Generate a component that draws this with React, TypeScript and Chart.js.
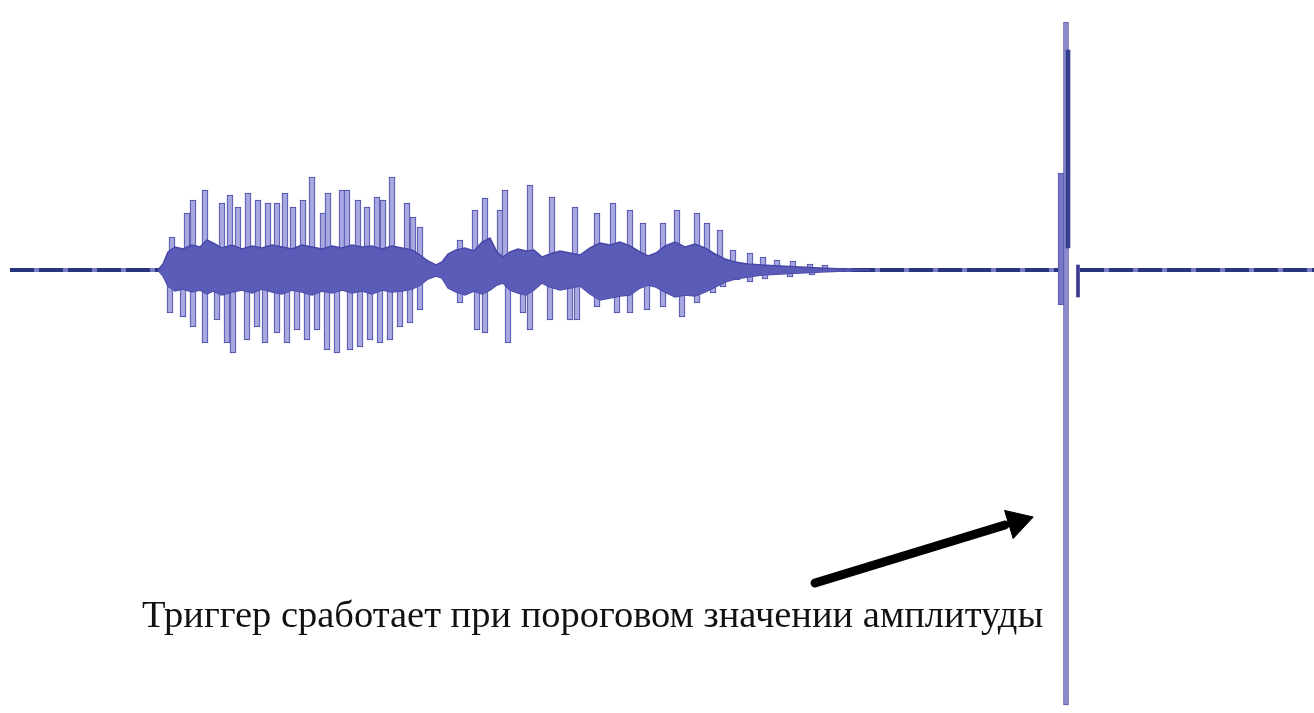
import React, { useEffect, useRef } from "react";
import { Chart, registerables } from "chart.js";

Chart.register(...registerables);

const W = 1314;
const H = 713;

// Axis ranges (amplitude relative to the zero line, sample position along x)
const xMin = 0;
const xMax = 1314;
const yMin = -443;
const yMax = 270;

// Zero line (null = break right after the trigger spike)
const baselineX = [10, 1058, 1069, 1080, 1314];
const baselineY: (number | null)[] = [0, 0, null, 0, 0];

// Dense core envelope of the speech signal
const coreX = [158, 163, 168, 175, 183, 192, 200, 207, 213, 222, 232, 242, 252, 262, 272, 282, 292, 302, 312, 322, 332, 342, 352, 362, 372, 382, 392, 402, 412, 420, 428, 436, 442, 448, 456, 465, 474, 482, 490, 497, 503, 510, 518, 526, 534, 542, 550, 560, 570, 580, 590, 600, 610, 620, 630, 640, 648, 656, 665, 675, 685, 695, 705, 715, 725, 735, 748, 762, 780, 800, 820, 845, 870];
const coreUp = [0, 6, 18, 23, 21, 25, 23, 30, 27, 22, 25, 21, 24, 22, 25, 23, 21, 25, 23, 21, 24, 22, 25, 23, 24, 21, 24, 22, 20, 15, 9, 5, 8, 16, 20, 22, 19, 28, 32, 18, 13, 18, 21, 19, 20, 13, 16, 19, 17, 15, 22, 27, 25, 28, 24, 18, 14, 17, 24, 28, 23, 26, 22, 16, 11, 8, 6, 5, 4, 3, 2, 1, 0];
const coreLo = [0, -6, -16, -21, -19, -22, -20, -24, -21, -25, -22, -20, -23, -19, -22, -24, -20, -22, -25, -21, -23, -20, -23, -21, -24, -20, -22, -21, -19, -15, -9, -6, -8, -18, -22, -25, -21, -24, -20, -15, -13, -20, -23, -25, -20, -13, -17, -20, -18, -16, -24, -30, -28, -26, -25, -18, -15, -17, -22, -27, -25, -26, -22, -17, -12, -9, -7, -5, -4, -3, -2, -1, 0];

// Positive peaks
const topSpikeX = [172, 187, 193, 205, 222, 230, 238, 248, 258, 268, 277, 285, 293, 303, 312, 323, 328, 342, 347, 358, 367, 377, 383, 392, 407, 413, 420, 460, 475, 485, 500, 505, 530, 552, 575, 597, 613, 630, 643, 663, 677, 697, 707, 720, 733, 750, 763, 777, 793, 810, 825];
const topSpikeAmp = [33, 57, 70, 80, 67, 75, 63, 77, 70, 67, 67, 77, 63, 70, 93, 57, 77, 80, 80, 70, 63, 73, 70, 93, 67, 53, 43, 30, 60, 72, 60, 80, 85, 73, 63, 57, 67, 60, 47, 47, 60, 57, 47, 40, 20, 17, 13, 10, 9, 6, 5];

// Negative peaks
const bottomSpikeX = [170, 183, 193, 205, 217, 227, 233, 247, 257, 265, 277, 287, 297, 307, 317, 327, 337, 350, 360, 370, 380, 390, 400, 410, 420, 460, 477, 485, 508, 523, 530, 550, 570, 577, 597, 617, 630, 647, 663, 682, 697, 713, 723, 737, 750, 765, 790, 812];
const bottomSpikeAmp = [-43, -47, -57, -73, -50, -73, -83, -70, -57, -73, -63, -73, -60, -70, -60, -80, -83, -80, -77, -70, -73, -70, -57, -53, -40, -33, -60, -63, -73, -43, -60, -50, -50, -50, -37, -43, -43, -40, -37, -47, -33, -23, -17, -10, -12, -9, -7, -5];

// Trigger impulse
const triggerX = [1066];
const triggerLo = [-435];
const triggerHi = [248];
const triggerCoreX = [1068];
const triggerCoreLo = [22];
const triggerCoreHi = [220];
const triggerBodyX = [1062];
const triggerBodyLo = [-35];
const triggerBodyHi = [97];
const triggerBlipX = [1078];
const triggerBlipLo = [-27];
const triggerBlipHi = [5];

// Annotation arrow
const arrowX = [815, 1005];
const arrowY = [-313, -255];
const arrowHeadX = [1017];
const arrowHeadY = [-252];

const caption = "Триггер сработает при пороговом значении амплитуды";

const pts = (xs: number[], ys: (number | null)[]) => xs.map((x, i) => ({ x, y: ys[i] }));
const ranges = (xs: number[], lo: number[], hi: number[]) => xs.map((x, i) => ({ x, y: [lo[i], hi[i]] }));

export default function App() {
  const ref = useRef<HTMLCanvasElement | null>(null);

  useEffect(() => {
    if (!ref.current) return;
    const spikeStyle = {
      type: "bar" as const,
      backgroundColor: "rgba(162,162,222,0.92)",
      borderColor: "#4a4aa6",
      borderWidth: 1,
      borderSkipped: false,
      grouped: false,
      barThickness: 6,
      order: 40,
    };
    const chart = new Chart(ref.current, {
      type: "line",
      data: {
        datasets: [
          {
            type: "line",
            data: pts(baselineX, baselineY),
            borderColor: "#7b7bc2",
            borderWidth: 4,
            pointRadius: 0,
            spanGaps: false,
            order: 52,
          } as any,
          {
            type: "line",
            data: pts(baselineX, baselineY),
            borderColor: "#26357e",
            borderWidth: 4,
            borderDash: [24, 5],
            pointRadius: 0,
            spanGaps: false,
            order: 50,
          } as any,
          { ...spikeStyle, data: ranges(topSpikeX, topSpikeX.map(() => 0), topSpikeAmp) } as any,
          { ...spikeStyle, data: ranges(bottomSpikeX, bottomSpikeAmp, bottomSpikeX.map(() => 0)) } as any,
          {
            type: "line",
            data: pts(coreX, coreUp),
            borderColor: "#4848a8",
            borderWidth: 1.5,
            backgroundColor: "#5b5bb8",
            fill: "+1",
            pointRadius: 0,
            tension: 0,
            order: 30,
          } as any,
          {
            type: "line",
            data: pts(coreX, coreLo),
            borderColor: "#4848a8",
            borderWidth: 1.5,
            pointRadius: 0,
            tension: 0,
            fill: false,
            order: 30,
          } as any,
          {
            type: "bar",
            data: ranges(triggerBodyX, triggerBodyLo, triggerBodyHi),
            backgroundColor: "#7676c4",
            borderColor: "#5a5ab0",
            borderWidth: 1,
            borderSkipped: false,
            grouped: false,
            barThickness: 8,
            order: 22,
          } as any,
          {
            type: "bar",
            data: ranges(triggerX, triggerLo, triggerHi),
            backgroundColor: "#8c8cce",
            borderColor: "#5656a8",
            borderWidth: 1,
            borderSkipped: false,
            grouped: false,
            barThickness: 5,
            order: 21,
          } as any,
          {
            type: "bar",
            data: ranges(triggerCoreX, triggerCoreLo, triggerCoreHi),
            backgroundColor: "#34408e",
            borderWidth: 0,
            grouped: false,
            barThickness: 4,
            order: 20,
          } as any,
          {
            type: "bar",
            data: ranges(triggerBlipX, triggerBlipLo, triggerBlipHi),
            backgroundColor: "#3a3a90",
            borderWidth: 0,
            grouped: false,
            barThickness: 3,
            order: 20,
          } as any,
          {
            type: "line",
            data: pts(arrowX, arrowY),
            borderColor: "#000",
            borderWidth: 9,
            borderCapStyle: "round",
            pointRadius: 0,
            order: 10,
          } as any,
          {
            type: "line",
            data: pts(arrowHeadX, arrowHeadY),
            showLine: false,
            pointStyle: "triangle",
            pointRadius: 17,
            rotation: 73,
            pointBackgroundColor: "#000",
            pointBorderColor: "#000",
            pointBorderWidth: 1,
            order: 10,
          } as any,
        ],
      },
      options: {
        animation: false,
        responsive: false,
        maintainAspectRatio: false,
        layout: { padding: 0, autoPadding: false },
        events: [],
        plugins: { legend: { display: false }, tooltip: { enabled: false } },
        scales: {
          x: { type: "linear", min: xMin, max: xMax, display: false, offset: false },
          y: { type: "linear", min: yMin, max: yMax, display: false },
        },
      },
    });
    return () => chart.destroy();
  }, []);

  return (
    <div style={{ position: "absolute", left: 0, top: 0, width: W, height: H, background: "#fff", overflow: "hidden" }}>
      <canvas ref={ref} width={W} height={H} style={{ display: "block", width: W, height: H }} />
      <div
        style={{
          position: "absolute",
          left: 142,
          top: 595,
          fontFamily: "'Liberation Serif', 'DejaVu Serif', serif",
          fontSize: 38.5,
          lineHeight: 1,
          color: "#111",
          whiteSpace: "nowrap",
        }}
      >
        {caption}
      </div>
    </div>
  );
}
